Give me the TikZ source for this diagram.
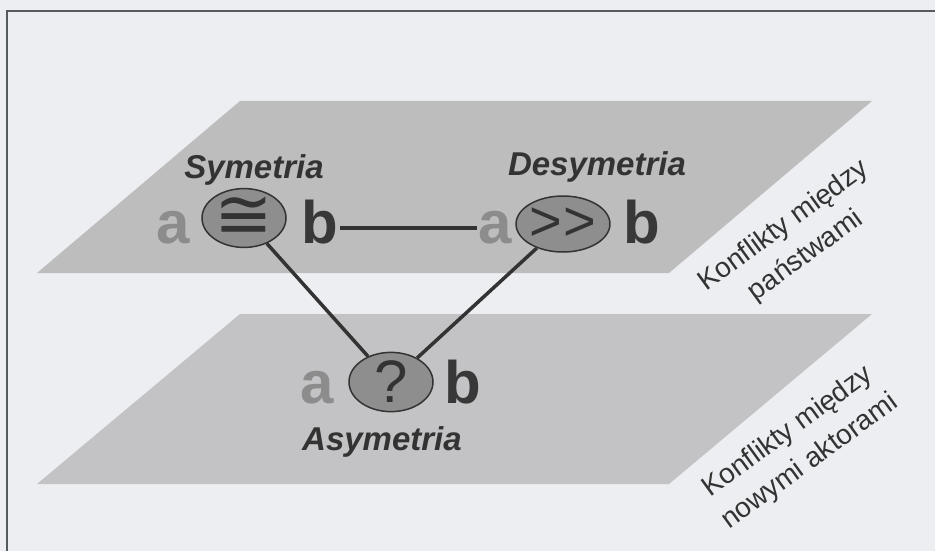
\documentclass[tikz,border=0pt]{standalone}
\usepackage{fontspec}
\setmainfont{Liberation Sans}
\newfontfamily\dejavu{DejaVu Sans}
\usetikzlibrary{shapes.geometric}
\definecolor{bg}{HTML}{ECEEF2}
\definecolor{planeU}{HTML}{BDBDBE}
\definecolor{planeL}{HTML}{C3C3C5}
\definecolor{ellfill}{HTML}{8E8E8F}
\definecolor{ink}{HTML}{333333}
\definecolor{lighta}{HTML}{8C8C8C}
\definecolor{darkb}{HTML}{383838}
\definecolor{framec}{HTML}{555A5E}
\tikzset{
  lbl/.style={font=\fontsize{33}{33}\selectfont\bfseries\itshape, text=ink, anchor=base, inner sep=0},
  leta/.style={font=\fontsize{60}{60}\selectfont\bfseries, text=lighta, anchor=base, inner sep=1},
  letb/.style={font=\fontsize{60}{60}\selectfont\bfseries, text=darkb, anchor=base, inner sep=1},
  ell/.style={ellipse, draw=ink, line width=1.5, fill=ellfill, minimum width=84, minimum height=56, inner sep=0, text=ink},
  conn/.style={draw=ink, line width=3.5},
  side/.style={font=\fontsize{28}{37}\selectfont, text=ink, align=center, rotate=36, inner sep=0}
}
\begin{document}
\begin{tikzpicture}[x=1pt,y=-1pt]
\useasboundingbox (0,0) rectangle (935,551);
\fill[bg] (0,0) rectangle (935,551);
\draw[framec, line width=2] (7,570) -- (7,11) -- (950,11);
% planes
\fill[planeU] (37,273) -- (240,101) -- (872,101) -- (669,273) -- cycle;
\fill[planeL] (37,484) -- (240,314) -- (872,314) -- (669,484) -- cycle;
% upper left group
\node[lbl] (tS) at (254,178) {Symetria};
\node[leta] (aS) at (173,243) {a};
\node[ell] (eS) at (244,218) {\dejavu\fontsize{70}{70}\selectfont ≅};
\node[letb] (bS) at (320,243) {b};
% upper right group
\node[lbl] (tD) at (597,175) {Desymetria};
\node[leta] (aD) at (495,243) {a};
\node[ell] (eD) at (563,224) {\fontsize{56}{56}\selectfont >\kern1pt>};
\node[letb] (bD) at (642,243) {b};
% lower group
\node[leta] (aA) at (317,403) {a};
\node[ell] (eA) at (391,382) {\fontsize{60}{60}\selectfont ?};
\node[letb] (bA) at (463,403) {b};
\node[lbl] (tA) at (382,450) {Asymetria};
% connectors
\draw[conn] (bS.east |- 0,228) -- (aD.west |- 0,228);
\draw[conn] (eS) -- (eA);
\draw[conn] (eD) -- (eA);
% side labels
\node[side] (sU) at (795,241) {Konflikty między\\państwami};
\node[side] (sL) at (799,447) {Konflikty między\\nowymi aktorami};
\end{tikzpicture}
\end{document}
